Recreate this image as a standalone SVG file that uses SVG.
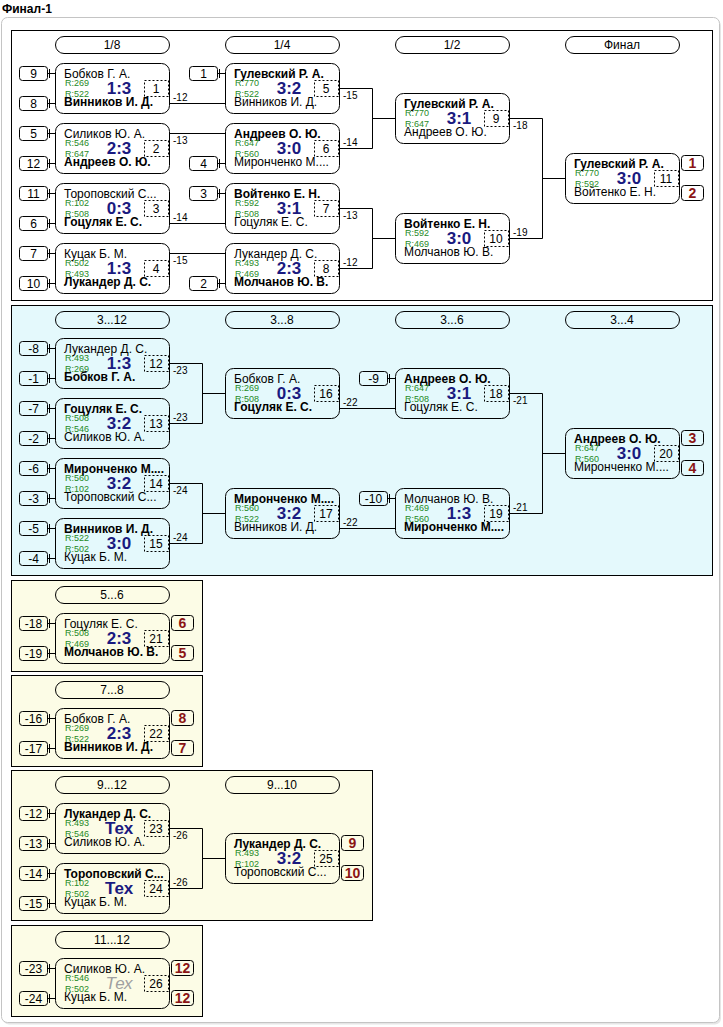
<svg xmlns="http://www.w3.org/2000/svg" width="723" height="1027" viewBox="0 0 723 1027">
<style>
text{font-family:"Liberation Sans",Arial,sans-serif}
.box{fill:none;stroke:#000;stroke-width:1}
.num{fill:none;stroke:#000;stroke-width:1;stroke-dasharray:2 2}
.ln{fill:none;stroke:#000;stroke-width:1}
.t{font-size:12px;fill:#000}
.b{font-weight:bold}
.c{text-anchor:middle}
.r{font-size:9px;fill:#1f8a1f}
.sc{font-size:17px;font-weight:bold;fill:#1a1a80;text-anchor:middle}
.tx{font-size:17px;font-style:italic;fill:#a0a0a0;text-anchor:middle}
.lb{font-size:10px;fill:#000}
.pl{font-size:14px;font-weight:bold;fill:#8b1414;text-anchor:middle}
.s1{fill:#fff;stroke:#000}
.s2{fill:#e4f9fc;stroke:#000}
.s3{fill:#fcfce6;stroke:#000}
</style>
<rect x="3" y="19.5" width="718" height="1005" rx="6" fill="#e6e6e6"/>
<rect x="1.5" y="17.5" width="718" height="1005" rx="6" fill="#fff" stroke="#c4c4c4"/>
<text class="t b" x="2" y="13">Финал-1</text>

<g id="sections">
<rect class="s1" x="11.5" y="30.5" width="701" height="270"/>
<rect class="s2" x="11.5" y="305.5" width="701" height="270"/>
<rect class="s3" x="11.5" y="580.5" width="191" height="91"/>
<rect class="s3" x="11.5" y="675.5" width="191" height="91"/>
<rect class="s3" x="11.5" y="770.5" width="361" height="150"/>
<rect class="s3" x="11.5" y="925.5" width="191" height="91"/>
</g>

<g id="headers">
<rect class="box" x="55.5" y="36.5" width="114" height="17" rx="8.5"/><text class="t c" x="112" y="49">1/8</text>
<rect class="box" x="225.5" y="36.5" width="114" height="17" rx="8.5"/><text class="t c" x="282" y="49">1/4</text>
<rect class="box" x="395.5" y="36.5" width="114" height="17" rx="8.5"/><text class="t c" x="452" y="49">1/2</text>
<rect class="box" x="565.5" y="36.5" width="114" height="17" rx="8.5"/><text class="t c" x="622" y="49">Финал</text>
<rect class="box" x="55.5" y="311.5" width="114" height="17" rx="8.5"/><text class="t c" x="112" y="324">3...12</text>
<rect class="box" x="225.5" y="311.5" width="114" height="17" rx="8.5"/><text class="t c" x="282" y="324">3...8</text>
<rect class="box" x="395.5" y="311.5" width="114" height="17" rx="8.5"/><text class="t c" x="452" y="324">3...6</text>
<rect class="box" x="565.5" y="311.5" width="114" height="17" rx="8.5"/><text class="t c" x="622" y="324">3...4</text>
<rect class="box" x="55.5" y="586.5" width="114" height="17" rx="8.5"/><text class="t c" x="112" y="599">5...6</text>
<rect class="box" x="55.5" y="681.5" width="114" height="17" rx="8.5"/><text class="t c" x="112" y="694">7...8</text>
<rect class="box" x="55.5" y="776.5" width="114" height="17" rx="8.5"/><text class="t c" x="112" y="789">9...12</text>
<rect class="box" x="225.5" y="776.5" width="114" height="17" rx="8.5"/><text class="t c" x="282" y="789">9...10</text>
<rect class="box" x="55.5" y="931.5" width="114" height="17" rx="8.5"/><text class="t c" x="112" y="944">11...12</text>
</g>

<g id="connectors">
<path class="ln" d="M170 103.5H225M170 133.5H225M170 223.5H225M170 253.5H225"/>
<path class="ln" d="M340 88.5H372.5V148.5H340M372.5 118.5H395M340 208.5H372.5V268.5H340M372.5 238.5H395"/>
<path class="ln" d="M510 118.5H542.5V238.5H510M542.5 178.5H565"/>
<path class="ln" d="M170 363.5H202.5V423.5H170M202.5 393.5H225M170 483.5H202.5V543.5H170M202.5 513.5H225"/>
<path class="ln" d="M340 408.5H395M340 528.5H395"/>
<path class="ln" d="M510 393.5H542.5V513.5H510M542.5 453.5H565"/>
<path class="ln" d="M170 828.5H202.5V888.5H170M202.5 858.5H225"/>
<text class="lb" x="173" y="101">-12</text>
<text class="lb" x="173" y="144">-13</text>
<text class="lb" x="173" y="221">-14</text>
<text class="lb" x="173" y="264">-15</text>
<text class="lb" x="343" y="99">-15</text>
<text class="lb" x="343" y="146">-14</text>
<text class="lb" x="343" y="219">-13</text>
<text class="lb" x="343" y="266">-12</text>
<text class="lb" x="513" y="129">-18</text>
<text class="lb" x="513" y="236">-19</text>
<text class="lb" x="173" y="374">-23</text>
<text class="lb" x="173" y="421">-23</text>
<text class="lb" x="173" y="494">-24</text>
<text class="lb" x="173" y="541">-24</text>
<text class="lb" x="343" y="406">-22</text>
<text class="lb" x="343" y="526">-22</text>
<text class="lb" x="513" y="404">-21</text>
<text class="lb" x="513" y="511">-21</text>
<text class="lb" x="173" y="839">-26</text>
<text class="lb" x="173" y="886">-26</text>
</g>

<g id="seeds">
<g id="seed-m1a"><rect class="box" x="19.5" y="66.5" width="28" height="14" rx="3"/><text class="t c" x="33.5" y="77.5">9</text><path class="ln" d="M48 73.5H55M49.5 69V78"/></g>
<g id="seed-m1b"><rect class="box" x="19.5" y="96.5" width="28" height="14" rx="3"/><text class="t c" x="33.5" y="107.5">8</text><path class="ln" d="M48 103.5H55M49.5 99V108"/></g>
<g id="seed-m2a"><rect class="box" x="19.5" y="126.5" width="28" height="14" rx="3"/><text class="t c" x="33.5" y="137.5">5</text><path class="ln" d="M48 133.5H55M49.5 129V138"/></g>
<g id="seed-m2b"><rect class="box" x="19.5" y="156.5" width="28" height="14" rx="3"/><text class="t c" x="33.5" y="167.5">12</text><path class="ln" d="M48 163.5H55M49.5 159V168"/></g>
<g id="seed-m3a"><rect class="box" x="19.5" y="186.5" width="28" height="14" rx="3"/><text class="t c" x="33.5" y="197.5">11</text><path class="ln" d="M48 193.5H55M49.5 189V198"/></g>
<g id="seed-m3b"><rect class="box" x="19.5" y="216.5" width="28" height="14" rx="3"/><text class="t c" x="33.5" y="227.5">6</text><path class="ln" d="M48 223.5H55M49.5 219V228"/></g>
<g id="seed-m4a"><rect class="box" x="19.5" y="246.5" width="28" height="14" rx="3"/><text class="t c" x="33.5" y="257.5">7</text><path class="ln" d="M48 253.5H55M49.5 249V258"/></g>
<g id="seed-m4b"><rect class="box" x="19.5" y="276.5" width="28" height="14" rx="3"/><text class="t c" x="33.5" y="287.5">10</text><path class="ln" d="M48 283.5H55M49.5 279V288"/></g>
<g id="seed-m5"><rect class="box" x="189.5" y="66.5" width="28" height="14" rx="3"/><text class="t c" x="203.5" y="77.5">1</text><path class="ln" d="M218 73.5H225M219.5 69V78"/></g>
<g id="seed-m6"><rect class="box" x="189.5" y="156.5" width="28" height="14" rx="3"/><text class="t c" x="203.5" y="167.5">4</text><path class="ln" d="M218 163.5H225M219.5 159V168"/></g>
<g id="seed-m7"><rect class="box" x="189.5" y="186.5" width="28" height="14" rx="3"/><text class="t c" x="203.5" y="197.5">3</text><path class="ln" d="M218 193.5H225M219.5 189V198"/></g>
<g id="seed-m8"><rect class="box" x="189.5" y="276.5" width="28" height="14" rx="3"/><text class="t c" x="203.5" y="287.5">2</text><path class="ln" d="M218 283.5H225M219.5 279V288"/></g>
<g id="seed-m12a"><rect class="box" x="19.5" y="341.5" width="28" height="14" rx="3"/><text class="t c" x="33.5" y="352.5">-8</text><path class="ln" d="M48 348.5H55M49.5 344V353"/></g>
<g id="seed-m12b"><rect class="box" x="19.5" y="371.5" width="28" height="14" rx="3"/><text class="t c" x="33.5" y="382.5">-1</text><path class="ln" d="M48 378.5H55M49.5 374V383"/></g>
<g id="seed-m13a"><rect class="box" x="19.5" y="401.5" width="28" height="14" rx="3"/><text class="t c" x="33.5" y="412.5">-7</text><path class="ln" d="M48 408.5H55M49.5 404V413"/></g>
<g id="seed-m13b"><rect class="box" x="19.5" y="431.5" width="28" height="14" rx="3"/><text class="t c" x="33.5" y="442.5">-2</text><path class="ln" d="M48 438.5H55M49.5 434V443"/></g>
<g id="seed-m14a"><rect class="box" x="19.5" y="461.5" width="28" height="14" rx="3"/><text class="t c" x="33.5" y="472.5">-6</text><path class="ln" d="M48 468.5H55M49.5 464V473"/></g>
<g id="seed-m14b"><rect class="box" x="19.5" y="491.5" width="28" height="14" rx="3"/><text class="t c" x="33.5" y="502.5">-3</text><path class="ln" d="M48 498.5H55M49.5 494V503"/></g>
<g id="seed-m15a"><rect class="box" x="19.5" y="521.5" width="28" height="14" rx="3"/><text class="t c" x="33.5" y="532.5">-5</text><path class="ln" d="M48 528.5H55M49.5 524V533"/></g>
<g id="seed-m15b"><rect class="box" x="19.5" y="551.5" width="28" height="14" rx="3"/><text class="t c" x="33.5" y="562.5">-4</text><path class="ln" d="M48 558.5H55M49.5 554V563"/></g>
<g id="seed-m18"><rect class="box" x="359.5" y="371.5" width="28" height="14" rx="3"/><text class="t c" x="373.5" y="382.5">-9</text><path class="ln" d="M388 378.5H395M389.5 374V383"/></g>
<g id="seed-m19"><rect class="box" x="359.5" y="491.5" width="28" height="14" rx="3"/><text class="t c" x="373.5" y="502.5">-10</text><path class="ln" d="M388 498.5H395M389.5 494V503"/></g>
<g id="seed-m21a"><rect class="box" x="19.5" y="616.5" width="28" height="14" rx="3"/><text class="t c" x="33.5" y="627.5">-18</text><path class="ln" d="M48 623.5H55M49.5 619V628"/></g>
<g id="seed-m21b"><rect class="box" x="19.5" y="646.5" width="28" height="14" rx="3"/><text class="t c" x="33.5" y="657.5">-19</text><path class="ln" d="M48 653.5H55M49.5 649V658"/></g>
<g id="seed-m22a"><rect class="box" x="19.5" y="711.5" width="28" height="14" rx="3"/><text class="t c" x="33.5" y="722.5">-16</text><path class="ln" d="M48 718.5H55M49.5 714V723"/></g>
<g id="seed-m22b"><rect class="box" x="19.5" y="741.5" width="28" height="14" rx="3"/><text class="t c" x="33.5" y="752.5">-17</text><path class="ln" d="M48 748.5H55M49.5 744V753"/></g>
<g id="seed-m23a"><rect class="box" x="19.5" y="806.5" width="28" height="14" rx="3"/><text class="t c" x="33.5" y="817.5">-12</text><path class="ln" d="M48 813.5H55M49.5 809V818"/></g>
<g id="seed-m23b"><rect class="box" x="19.5" y="836.5" width="28" height="14" rx="3"/><text class="t c" x="33.5" y="847.5">-13</text><path class="ln" d="M48 843.5H55M49.5 839V848"/></g>
<g id="seed-m24a"><rect class="box" x="19.5" y="866.5" width="28" height="14" rx="3"/><text class="t c" x="33.5" y="877.5">-14</text><path class="ln" d="M48 873.5H55M49.5 869V878"/></g>
<g id="seed-m24b"><rect class="box" x="19.5" y="896.5" width="28" height="14" rx="3"/><text class="t c" x="33.5" y="907.5">-15</text><path class="ln" d="M48 903.5H55M49.5 899V908"/></g>
<g id="seed-m26a"><rect class="box" x="19.5" y="961.5" width="28" height="14" rx="3"/><text class="t c" x="33.5" y="972.5">-23</text><path class="ln" d="M48 968.5H55M49.5 964V973"/></g>
<g id="seed-m26b"><rect class="box" x="19.5" y="991.5" width="28" height="14" rx="3"/><text class="t c" x="33.5" y="1002.5">-24</text><path class="ln" d="M48 998.5H55M49.5 994V1003"/></g>
</g>

<g id="m1"><rect class="box" x="55.5" y="63.5" width="114" height="50" rx="8"/><text class="t" x="64" y="78">Бобков Г. А.</text><text class="r" x="65" y="86">R:269</text><text class="r" x="65" y="97">R:522</text><text class="sc" x="119" y="94">1:3</text><rect class="num" x="144.5" y="80.5" width="24" height="16"/><text class="t c" x="156" y="93">1</text><text class="t b" x="64" y="106">Винников И. Д.</text></g>
<g id="m2"><rect class="box" x="55.5" y="123.5" width="114" height="50" rx="8"/><text class="t" x="64" y="138">Силиков Ю. А.</text><text class="r" x="65" y="146">R:546</text><text class="r" x="65" y="157">R:647</text><text class="sc" x="119" y="154">2:3</text><rect class="num" x="144.5" y="140.5" width="24" height="16"/><text class="t c" x="156" y="153">2</text><text class="t b" x="64" y="166">Андреев О. Ю.</text></g>
<g id="m3"><rect class="box" x="55.5" y="183.5" width="114" height="50" rx="8"/><text class="t" x="64" y="198">Тороповский С...</text><text class="r" x="65" y="206">R:102</text><text class="r" x="65" y="217">R:508</text><text class="sc" x="119" y="214">0:3</text><rect class="num" x="144.5" y="200.5" width="24" height="16"/><text class="t c" x="156" y="213">3</text><text class="t b" x="64" y="226">Гоцуляк Е. С.</text></g>
<g id="m4"><rect class="box" x="55.5" y="243.5" width="114" height="50" rx="8"/><text class="t" x="64" y="258">Куцак Б. М.</text><text class="r" x="65" y="266">R:502</text><text class="r" x="65" y="277">R:493</text><text class="sc" x="119" y="274">1:3</text><rect class="num" x="144.5" y="260.5" width="24" height="16"/><text class="t c" x="156" y="273">4</text><text class="t b" x="64" y="286">Лукандер Д. С.</text></g>
<g id="m5"><rect class="box" x="225.5" y="63.5" width="114" height="50" rx="8"/><text class="t b" x="234" y="78">Гулевский Р. А.</text><text class="r" x="235" y="86">R:770</text><text class="r" x="235" y="97">R:522</text><text class="sc" x="289" y="94">3:2</text><rect class="num" x="314.5" y="80.5" width="24" height="16"/><text class="t c" x="326" y="93">5</text><text class="t" x="234" y="106">Винников И. Д.</text></g>
<g id="m6"><rect class="box" x="225.5" y="123.5" width="114" height="50" rx="8"/><text class="t b" x="234" y="138">Андреев О. Ю.</text><text class="r" x="235" y="146">R:647</text><text class="r" x="235" y="157">R:560</text><text class="sc" x="289" y="154">3:0</text><rect class="num" x="314.5" y="140.5" width="24" height="16"/><text class="t c" x="326" y="153">6</text><text class="t" x="234" y="166">Миронченко М....</text></g>
<g id="m7"><rect class="box" x="225.5" y="183.5" width="114" height="50" rx="8"/><text class="t b" x="234" y="198">Войтенко Е. Н.</text><text class="r" x="235" y="206">R:592</text><text class="r" x="235" y="217">R:508</text><text class="sc" x="289" y="214">3:1</text><rect class="num" x="314.5" y="200.5" width="24" height="16"/><text class="t c" x="326" y="213">7</text><text class="t" x="234" y="226">Гоцуляк Е. С.</text></g>
<g id="m8"><rect class="box" x="225.5" y="243.5" width="114" height="50" rx="8"/><text class="t" x="234" y="258">Лукандер Д. С.</text><text class="r" x="235" y="266">R:493</text><text class="r" x="235" y="277">R:469</text><text class="sc" x="289" y="274">2:3</text><rect class="num" x="314.5" y="260.5" width="24" height="16"/><text class="t c" x="326" y="273">8</text><text class="t b" x="234" y="286">Молчанов Ю. В.</text></g>
<g id="m9"><rect class="box" x="395.5" y="93.5" width="114" height="50" rx="8"/><text class="t b" x="404" y="108">Гулевский Р. А.</text><text class="r" x="405" y="116">R:770</text><text class="r" x="405" y="127">R:647</text><text class="sc" x="459" y="124">3:1</text><rect class="num" x="484.5" y="110.5" width="24" height="16"/><text class="t c" x="496" y="123">9</text><text class="t" x="404" y="136">Андреев О. Ю.</text></g>
<g id="m10"><rect class="box" x="395.5" y="213.5" width="114" height="50" rx="8"/><text class="t b" x="404" y="228">Войтенко Е. Н.</text><text class="r" x="405" y="236">R:592</text><text class="r" x="405" y="247">R:469</text><text class="sc" x="459" y="244">3:0</text><rect class="num" x="484.5" y="230.5" width="24" height="16"/><text class="t c" x="496" y="243">10</text><text class="t" x="404" y="256">Молчанов Ю. В.</text></g>
<g id="m11"><rect class="box" x="565.5" y="153.5" width="114" height="50" rx="8"/><text class="t b" x="574" y="168">Гулевский Р. А.</text><text class="r" x="575" y="176">R:770</text><text class="r" x="575" y="187">R:592</text><text class="sc" x="629" y="184">3:0</text><rect class="num" x="654.5" y="170.5" width="24" height="16"/><text class="t c" x="666" y="183">11</text><text class="t" x="574" y="196">Войтенко Е. Н.</text>
<rect class="box" x="681.5" y="155.5" width="22" height="15" rx="3"/><text class="pl" x="692.5" y="168">1</text>
<rect class="box" x="681.5" y="185.5" width="22" height="15" rx="3"/><text class="pl" x="692.5" y="198">2</text></g>

<g id="m12"><rect class="box" x="55.5" y="338.5" width="114" height="50" rx="8"/><text class="t" x="64" y="353">Лукандер Д. С.</text><text class="r" x="65" y="361">R:493</text><text class="r" x="65" y="372">R:269</text><text class="sc" x="119" y="369">1:3</text><rect class="num" x="144.5" y="355.5" width="24" height="16"/><text class="t c" x="156" y="368">12</text><text class="t b" x="64" y="381">Бобков Г. А.</text></g>
<g id="m13"><rect class="box" x="55.5" y="398.5" width="114" height="50" rx="8"/><text class="t b" x="64" y="413">Гоцуляк Е. С.</text><text class="r" x="65" y="421">R:508</text><text class="r" x="65" y="432">R:546</text><text class="sc" x="119" y="429">3:2</text><rect class="num" x="144.5" y="415.5" width="24" height="16"/><text class="t c" x="156" y="428">13</text><text class="t" x="64" y="441">Силиков Ю. А.</text></g>
<g id="m14"><rect class="box" x="55.5" y="458.5" width="114" height="50" rx="8"/><text class="t b" x="64" y="473">Миронченко М....</text><text class="r" x="65" y="481">R:560</text><text class="r" x="65" y="492">R:102</text><text class="sc" x="119" y="489">3:2</text><rect class="num" x="144.5" y="475.5" width="24" height="16"/><text class="t c" x="156" y="488">14</text><text class="t" x="64" y="501">Тороповский С...</text></g>
<g id="m15"><rect class="box" x="55.5" y="518.5" width="114" height="50" rx="8"/><text class="t b" x="64" y="533">Винников И. Д.</text><text class="r" x="65" y="541">R:522</text><text class="r" x="65" y="552">R:502</text><text class="sc" x="119" y="549">3:0</text><rect class="num" x="144.5" y="535.5" width="24" height="16"/><text class="t c" x="156" y="548">15</text><text class="t" x="64" y="561">Куцак Б. М.</text></g>
<g id="m16"><rect class="box" x="225.5" y="368.5" width="114" height="50" rx="8"/><text class="t" x="234" y="383">Бобков Г. А.</text><text class="r" x="235" y="391">R:269</text><text class="r" x="235" y="402">R:508</text><text class="sc" x="289" y="399">0:3</text><rect class="num" x="314.5" y="385.5" width="24" height="16"/><text class="t c" x="326" y="398">16</text><text class="t b" x="234" y="411">Гоцуляк Е. С.</text></g>
<g id="m17"><rect class="box" x="225.5" y="488.5" width="114" height="50" rx="8"/><text class="t b" x="234" y="503">Миронченко М....</text><text class="r" x="235" y="511">R:560</text><text class="r" x="235" y="522">R:522</text><text class="sc" x="289" y="519">3:2</text><rect class="num" x="314.5" y="505.5" width="24" height="16"/><text class="t c" x="326" y="518">17</text><text class="t" x="234" y="531">Винников И. Д.</text></g>
<g id="m18"><rect class="box" x="395.5" y="368.5" width="114" height="50" rx="8"/><text class="t b" x="404" y="383">Андреев О. Ю.</text><text class="r" x="405" y="391">R:647</text><text class="r" x="405" y="402">R:508</text><text class="sc" x="459" y="399">3:1</text><rect class="num" x="484.5" y="385.5" width="24" height="16"/><text class="t c" x="496" y="398">18</text><text class="t" x="404" y="411">Гоцуляк Е. С.</text></g>
<g id="m19"><rect class="box" x="395.5" y="488.5" width="114" height="50" rx="8"/><text class="t" x="404" y="503">Молчанов Ю. В.</text><text class="r" x="405" y="511">R:469</text><text class="r" x="405" y="522">R:560</text><text class="sc" x="459" y="519">1:3</text><rect class="num" x="484.5" y="505.5" width="24" height="16"/><text class="t c" x="496" y="518">19</text><text class="t b" x="404" y="531">Миронченко М....</text></g>
<g id="m20"><rect class="box" x="565.5" y="428.5" width="114" height="50" rx="8"/><text class="t b" x="574" y="443">Андреев О. Ю.</text><text class="r" x="575" y="451">R:647</text><text class="r" x="575" y="462">R:560</text><text class="sc" x="629" y="459">3:0</text><rect class="num" x="654.5" y="445.5" width="24" height="16"/><text class="t c" x="666" y="458">20</text><text class="t" x="574" y="471">Миронченко М....</text>
<rect class="box" x="681.5" y="430.5" width="22" height="15" rx="3"/><text class="pl" x="692.5" y="443">3</text>
<rect class="box" x="681.5" y="460.5" width="22" height="15" rx="3"/><text class="pl" x="692.5" y="473">4</text></g>

<g id="m21"><rect class="box" x="55.5" y="613.5" width="114" height="50" rx="8"/><text class="t" x="64" y="628">Гоцуляк Е. С.</text><text class="r" x="65" y="636">R:508</text><text class="r" x="65" y="647">R:469</text><text class="sc" x="119" y="644">2:3</text><rect class="num" x="144.5" y="630.5" width="24" height="16"/><text class="t c" x="156" y="643">21</text><text class="t b" x="64" y="656">Молчанов Ю. В.</text>
<rect class="box" x="171.5" y="615.5" width="22" height="15" rx="3"/><text class="pl" x="182.5" y="628">6</text>
<rect class="box" x="171.5" y="645.5" width="22" height="15" rx="3"/><text class="pl" x="182.5" y="658">5</text></g>
<g id="m22"><rect class="box" x="55.5" y="708.5" width="114" height="50" rx="8"/><text class="t" x="64" y="723">Бобков Г. А.</text><text class="r" x="65" y="731">R:269</text><text class="r" x="65" y="742">R:522</text><text class="sc" x="119" y="739">2:3</text><rect class="num" x="144.5" y="725.5" width="24" height="16"/><text class="t c" x="156" y="738">22</text><text class="t b" x="64" y="751">Винников И. Д.</text>
<rect class="box" x="171.5" y="710.5" width="22" height="15" rx="3"/><text class="pl" x="182.5" y="723">8</text>
<rect class="box" x="171.5" y="740.5" width="22" height="15" rx="3"/><text class="pl" x="182.5" y="753">7</text></g>
<g id="m23"><rect class="box" x="55.5" y="803.5" width="114" height="50" rx="8"/><text class="t b" x="64" y="818">Лукандер Д. С.</text><text class="r" x="65" y="826">R:493</text><text class="r" x="65" y="837">R:546</text><text class="sc" x="119" y="834">Тех</text><rect class="num" x="144.5" y="820.5" width="24" height="16"/><text class="t c" x="156" y="833">23</text><text class="t" x="64" y="846">Силиков Ю. А.</text></g>
<g id="m24"><rect class="box" x="55.5" y="863.5" width="114" height="50" rx="8"/><text class="t b" x="64" y="878">Тороповский С...</text><text class="r" x="65" y="886">R:102</text><text class="r" x="65" y="897">R:502</text><text class="sc" x="119" y="894">Тех</text><rect class="num" x="144.5" y="880.5" width="24" height="16"/><text class="t c" x="156" y="893">24</text><text class="t" x="64" y="906">Куцак Б. М.</text></g>
<g id="m25"><rect class="box" x="225.5" y="833.5" width="114" height="50" rx="8"/><text class="t b" x="234" y="848">Лукандер Д. С.</text><text class="r" x="235" y="856">R:493</text><text class="r" x="235" y="867">R:102</text><text class="sc" x="289" y="864">3:2</text><rect class="num" x="314.5" y="850.5" width="24" height="16"/><text class="t c" x="326" y="863">25</text><text class="t" x="234" y="876">Тороповский С...</text>
<rect class="box" x="341.5" y="835.5" width="22" height="15" rx="3"/><text class="pl" x="352.5" y="848">9</text>
<rect class="box" x="341.5" y="865.5" width="22" height="15" rx="3"/><text class="pl" x="352.5" y="878">10</text></g>
<g id="m26"><rect class="box" x="55.5" y="958.5" width="114" height="50" rx="8"/><text class="t" x="64" y="973">Силиков Ю. А.</text><text class="r" x="65" y="981">R:546</text><text class="r" x="65" y="992">R:502</text><text class="tx" x="119" y="989">Тех</text><rect class="num" x="144.5" y="975.5" width="24" height="16"/><text class="t c" x="156" y="988">26</text><text class="t" x="64" y="1001">Куцак Б. М.</text>
<rect class="box" x="171.5" y="960.5" width="22" height="15" rx="3"/><text class="pl" x="182.5" y="973">12</text>
<rect class="box" x="171.5" y="990.5" width="22" height="15" rx="3"/><text class="pl" x="182.5" y="1003">12</text></g>
</svg>
